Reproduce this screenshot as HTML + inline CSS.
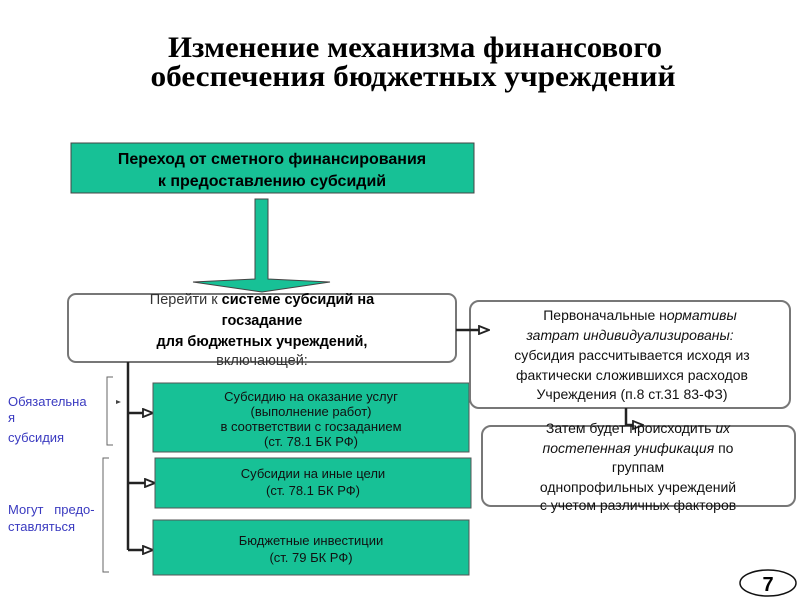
<!DOCTYPE html>
<html><head><meta charset="utf-8"><style>
html,body{margin:0;padding:0;background:#fff;}
svg{display:block;}
text{font-family:"Liberation Sans",sans-serif;}
</style></head><body>
<svg width="800" height="600" viewBox="0 0 800 600" xmlns="http://www.w3.org/2000/svg">
<defs>
<marker id="ah" markerWidth="12" markerHeight="10" refX="10" refY="5" orient="auto" markerUnits="userSpaceOnUse">
<path d="M1,1 L11,5 L1,9 Z" fill="#fff" stroke="#222" stroke-width="1.8"/>
</marker>
</defs>
<g font-weight="bold" font-size="30" text-anchor="middle" fill="#000">
<text x="415" y="57" style="font-family:'Liberation Serif',serif" textLength="494" lengthAdjust="spacingAndGlyphs">Изменение механизма финансового</text>
<text x="413" y="86" style="font-family:'Liberation Serif',serif" textLength="525" lengthAdjust="spacingAndGlyphs">обеспечения бюджетных учреждений</text>
</g>
<rect x="71" y="143" width="403" height="50" fill="#17c196" stroke="#444" stroke-width="1"/>
<g font-weight="bold" font-size="16" text-anchor="middle" fill="#000">
<text x="272" y="164">Переход от сметного финансирования</text>
<text x="272" y="186">к предоставлению субсидий</text>
</g>
<polygon points="255,199 268,199 268,279 330,282 262,292 193,282 255,279" fill="#17c196" stroke="#444" stroke-width="1"/>
<rect x="68" y="294" width="388" height="68" rx="8" fill="#fff" stroke="#777" stroke-width="2"/>
<g font-size="14.5" text-anchor="middle" fill="#000">
<text x="262" y="304"><tspan fill="#333">Перейти к </tspan><tspan font-weight="bold">системе субсидий на</tspan></text>
<text x="262" y="325" font-weight="bold">госзадание</text>
<text x="262" y="346" font-weight="bold">для бюджетных учреждений,</text>
<text x="262" y="365" fill="#333">включающей:</text>
</g>
<path d="M128,362 V550" stroke="#222" stroke-width="2.5" fill="none"/>
<path d="M128,413 H152" stroke="#222" stroke-width="2.5" marker-end="url(#ah)"/>
<path d="M128,483 H154" stroke="#222" stroke-width="2.5" marker-end="url(#ah)"/>
<path d="M128,550 H152" stroke="#222" stroke-width="2.5" marker-end="url(#ah)"/>
<rect x="153" y="383" width="316" height="69" fill="#17c196" stroke="#555" stroke-width="1"/>
<rect x="155" y="458" width="316" height="50" fill="#17c196" stroke="#555" stroke-width="1"/>
<rect x="153" y="520" width="316" height="55" fill="#17c196" stroke="#555" stroke-width="1"/>
<g font-size="13" text-anchor="middle" fill="#111">
<text x="311" y="401">Субсидию на оказание услуг</text>
<text x="311" y="416">(выполнение работ)</text>
<text x="311" y="431">в соответствии с госзаданием</text>
<text x="311" y="446">(ст. 78.1 БК РФ)</text>
<text x="313" y="478">Субсидии на иные цели</text>
<text x="313" y="495">(ст. 78.1 БК РФ)</text>
<text x="311" y="545">Бюджетные инвестиции</text>
<text x="311" y="562">(ст. 79 БК РФ)</text>
</g>
<g font-size="13" fill="#3a3ac0">
<text x="8" y="406">Обязательна</text>
<text x="8" y="422">я</text>
<text x="8" y="442">субсидия</text>
<text x="8" y="514">Могут &#160; предо-</text>
<text x="8" y="531">ставляться</text>
</g>
<path d="M113,377 H107 V445 H113" stroke="#666" stroke-width="1" fill="none"/>
<path d="M109,458 H103 V572 H109" stroke="#666" stroke-width="1" fill="none"/>
<polygon points="116,400 121,402 116,404" fill="#444"/>
<rect x="470" y="301" width="320" height="107" rx="9" fill="#fff" stroke="#777" stroke-width="2"/>
<path d="M456,330 H488" stroke="#222" stroke-width="2.5" marker-end="url(#ah)"/>
<rect x="482" y="426" width="313" height="80" rx="9" fill="#fff" stroke="#777" stroke-width="2"/>
<path d="M626,408 V425 H642" stroke="#222" stroke-width="2.5" fill="none" marker-end="url(#ah)"/>
<g font-size="14" text-anchor="middle" fill="#111">
<text x="640" y="320">Первоначальные н<tspan font-style="italic">ормативы</tspan></text>
<text x="630" y="340" font-style="italic">затрат индивидуализированы:</text>
<text x="632" y="360">субсидия рассчитывается исходя из</text>
<text x="632" y="380">фактически сложившихся расходов</text>
<text x="632" y="399">Учреждения (п.8 ст.31 83-ФЗ)</text>
<text x="638" y="433">Затем будет происходить <tspan font-style="italic">их</tspan></text>
<text x="638" y="453"><tspan font-style="italic">постепенная унификация</tspan> по</text>
<text x="638" y="472">группам</text>
<text x="638" y="492">однопрофильных учреждений</text>
<text x="638" y="510">с учетом различных факторов</text>
</g>
<ellipse cx="768" cy="583" rx="28" ry="13" fill="#fff" stroke="#111" stroke-width="1.5"/>
<text x="768" y="591" font-size="20" font-weight="bold" text-anchor="middle">7</text>
</svg>
</body></html>
